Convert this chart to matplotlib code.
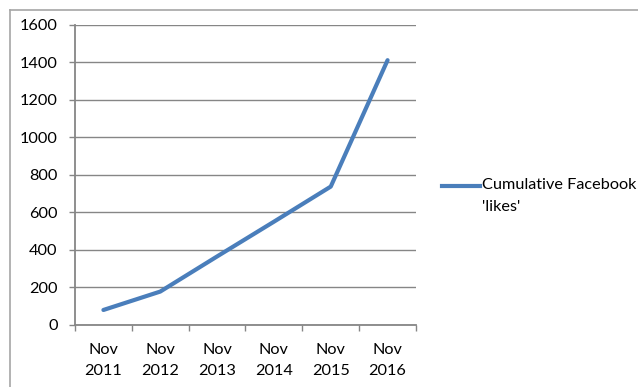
import matplotlib
matplotlib.use("Agg")
import matplotlib.pyplot as plt
from matplotlib.lines import Line2D
from matplotlib.ticker import FixedLocator

plt.rcParams['font.family'] = ['Lato', 'DejaVu Sans']

categories = ["Nov\n2011", "Nov\n2012", "Nov\n2013", "Nov\n2014", "Nov\n2015", "Nov\n2016"]
likes = [80, 178, 365, 550, 737, 1410]
series_name = "Cumulative Facebook\n'likes'"
y_ticks = [0, 200, 400, 600, 800, 1000, 1200, 1400, 1600]

W, H = 638, 387
fig = plt.figure(figsize=(W / 100, H / 100), dpi=100)
fig.patch.set_facecolor("white")

ax = fig.add_axes([75 / W, 1 - 325 / H, (416 - 75) / W, (325 - 24.5) / H])
grey = "#868686"
line_color = "#4a7ebb"
fs = 11.7

x = list(range(len(categories)))
ax.plot(x, likes, color=line_color, linewidth=3.0, solid_capstyle="round",
        solid_joinstyle="round", zorder=3)

ax.set_xlim(-0.5, len(categories) - 0.5)
ax.set_ylim(0, 1600)
ax.set_yticks(y_ticks)
ax.set_yticklabels([str(v) for v in y_ticks])
ax.yaxis.grid(True, color=grey, linewidth=1.0)
ax.set_axisbelow(True)

ax.set_xticks(x)
ax.set_xticklabels(categories, linespacing=1.6)
ax.xaxis.set_minor_locator(FixedLocator([i - 0.5 for i in range(len(categories) + 1)]))
ax.tick_params(axis="x", which="major", length=0, pad=13, labelsize=fs, colors="black")
ax.tick_params(axis="x", which="minor", length=4.5, width=1.0, color=grey, direction="out")
ax.tick_params(axis="y", length=4.5, width=1.0, color=grey, pad=8, labelsize=fs,
               labelcolor="black")

for side in ("top", "right"):
    ax.spines[side].set_visible(False)
for side in ("left", "bottom"):
    ax.spines[side].set_color(grey)
    ax.spines[side].set_linewidth(1.3)

# Legend entry on the right
fig.add_artist(Line2D([442 / W, 480 / W], [1 - 186 / H, 1 - 186 / H],
                      color=line_color, linewidth=3.0, transform=fig.transFigure))
fig.text(482 / W, 1 - 178 / H, series_name, fontsize=fs, va="top", ha="left",
         linespacing=1.75)

# Chart frame
frame = "#a6a6a6"
fig.add_artist(Line2D([10 / W, 1.0], [1 - 9.5 / H, 1 - 9.5 / H], color=frame,
                      linewidth=1.2, transform=fig.transFigure))
fig.add_artist(Line2D([10 / W, 10 / W], [1 - 9.5 / H, 0.0], color=frame,
                      linewidth=1.2, transform=fig.transFigure))

fig.savefig("out.png", dpi=100, facecolor="white")
